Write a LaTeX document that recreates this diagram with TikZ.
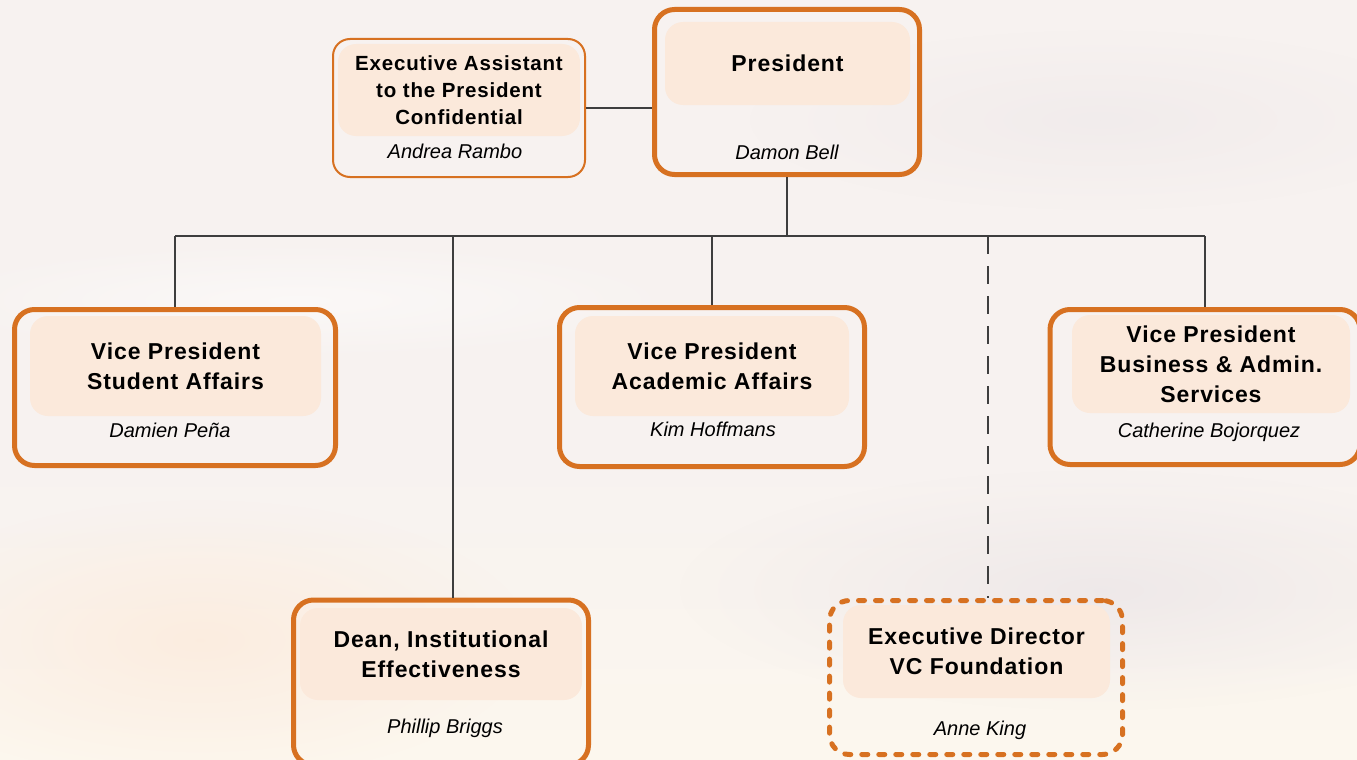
\documentclass[tikz,border=0pt]{standalone}
\usepackage{fontspec}
\setmainfont{Liberation Sans}
\newfontfamily\tfont{Liberation Sans}[LetterSpace=4]
\usetikzlibrary{calc,fadings}
\definecolor{orng}{RGB}{215,113,33}
\definecolor{peach}{RGB}{251,233,219}
\definecolor{conn}{RGB}{62,62,62}
\definecolor{bgtop}{RGB}{239,238,239}
\definecolor{bgmid}{RGB}{252,247,238}
\definecolor{bgmidb}{RGB}{247,242,240}
\definecolor{bgbot}{RGB}{250,234,222}
\definecolor{cloudg}{RGB}{236,230,232}
\definecolor{warm}{RGB}{252,236,222}
% stops run from top (0bp) to bottom (100bp) because the y axis is flipped
\pgfdeclareverticalshading{sky}{100bp}{color(0bp)=(bgtop); color(5bp)=(bgtop); color(25bp)=(bgmid); color(45bp)=(bgmidb); color(75bp)=(bgmidb); color(100bp)=(bgbot)}
\tikzfading[name=softfade, inner color=transparent!0, outer color=transparent!100]
\begin{document}
\begin{tikzpicture}[x=1pt,y=-1pt,
  box/.style={draw=orng, line width=5pt, rounded corners=20pt, inner sep=0pt},
  inbox/.style={fill=peach, rounded corners=18pt, inner sep=0pt, align=center,
    font=\tfont\bfseries\fontsize{23}{30}\selectfont},
  smallin/.style={inbox, font=\tfont\bfseries\fontsize{20.5}{27}\selectfont},
  nm/.style={font=\itshape\fontsize{20}{24}\selectfont, inner sep=0pt, text height=15pt, text depth=4pt},
  link/.style={draw=conn, line width=1.8pt},
  hlink/.style={draw=conn, line width=1.2pt},
  dlink/.style={draw=conn, line width=1.8pt, dash pattern=on 18pt off 12pt},
]
\useasboundingbox (0,0) rectangle (1357,760);
\clip (0,0) rectangle (1357,760);
% background sky
\fill[shading=sky] (0,0) rectangle (1357,760);
\fill[cloudg, path fading=softfade, opacity=0.8] (1100,590) ellipse (420pt and 120pt);
\fill[warm, path fading=softfade, opacity=0.9] (200,640) ellipse (330pt and 140pt);
\fill[white, path fading=softfade, opacity=0.5] (300,300) ellipse (400pt and 60pt);
\fill[cloudg, path fading=softfade, opacity=0.5] (1100,120) ellipse (350pt and 90pt);

% outer boxes
\node[box, minimum width=265pt, minimum height=165pt] (pres) at (787,92) {};
\node[box, line width=2pt, rounded corners=17pt, minimum width=252pt, minimum height=138pt] (exa) at (459,108) {};
\node[box, minimum width=321pt, minimum height=156pt] (vps) at (175,387.5) {};
\node[box, minimum width=305pt, minimum height=159pt] (vpa) at (712,387) {};
\node[box, minimum width=310pt, minimum height=155pt] (vpb) at (1205,387) {};
\node[box, minimum width=295pt, minimum height=165pt] (dean) at (441,682.5) {};
\node[box, dash pattern=on 6pt off 11pt, line cap=round, minimum width=293pt, minimum height=154pt] (exd) at (976,677.5) {};

% connectors
\coordinate (bus) at (0,236);
\coordinate (deanTop) at ([xshift=12pt]dean.north);
\coordinate (exdTop) at ([xshift=12pt]exd.north);
\draw[link] (exa.east) -- (exa.east -| pres.west);
\draw[link] (pres.south) -- (pres.south |- bus);
\draw[hlink] (vps.north |- bus) -- (vpb.north |- bus);
\draw[link] (vps.north |- bus) -- (vps.north);
\draw[link] (vpa.north |- bus) -- (vpa.north);
\draw[link] (vpb.north |- bus) -- (vpb.north);
\draw[link] (deanTop |- bus) -- (deanTop);
\draw[dlink] (exdTop |- bus) -- (exdTop);

% inner title boxes
\node[inbox, minimum width=245pt, minimum height=83pt] (presIn) at (787.5,63.5) {President};
\node[smallin, minimum width=242pt, minimum height=92pt] (exaIn) at (459,90) {Executive Assistant\\to the President\\Confidential};
\node[inbox, minimum width=291pt, minimum height=100pt] (vpsIn) at (175.5,366) {Vice President\\Student Affairs};
\node[inbox, minimum width=274pt, minimum height=100pt] (vpaIn) at (712,366) {Vice President\\Academic Affairs};
\node[inbox, minimum width=278pt, minimum height=98pt] (vpbIn) at (1211,364) {Vice President\\Business \& Admin.\\Services};
\node[inbox, minimum width=282pt, minimum height=92pt] (deanIn) at (441,654) {Dean, Institutional\\Effectiveness};
\node[inbox, minimum width=267pt, minimum height=93pt] (exdIn) at (976.5,651.5) {Executive Director\\VC Foundation};

% names
\node[nm] (presN) at (787,154) {Damon Bell};
\node[nm] (exaN) at (455,153) {Andrea Rambo};
\node[nm] (vpsN) at (170,432) {Damien Peña};
\node[nm] (vpaN) at (713,431) {Kim Hoffmans};
\node[nm] (vpbN) at (1209,432) {Catherine Bojorquez};
\node[nm] (deanN) at (445,728) {Phillip Briggs};
\node[nm] (exdN) at (980,730) {Anne King};
\end{tikzpicture}
\end{document}
